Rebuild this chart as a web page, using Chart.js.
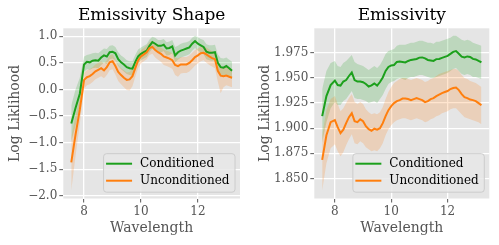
<!DOCTYPE html>
<html>
<head>
<meta charset="utf-8">
<script src="https://cdn.jsdelivr.net/npm/chart.js@4.4.1/dist/chart.umd.min.js"></script>
<style>
  html, body { margin: 0; padding: 0; background: #fff; }
  #wrap { display: flex; width: 499px; height: 245px; }
  canvas { display: block; }
</style>
</head>
<body>
<div id="wrap">
  <canvas id="shape" width="250" height="245"></canvas>
  <canvas id="emis" width="249" height="245"></canvas>
</div>
<script>
// wavelength samples (both panels share them)
const wavelength = [
	7.55, 7.7, 7.85, 8.0, 8.1, 8.2, 8.3, 8.4, 8.5, 8.6, 8.7, 8.8, 8.9, 9.0,
	9.1, 9.2, 9.3, 9.4, 9.5, 9.6, 9.7, 9.8, 9.9, 10.0, 10.1, 10.2, 10.3, 10.4,
	10.5, 10.6, 10.7, 10.8, 10.9, 11.0, 11.1, 11.2, 11.3, 11.4, 11.5, 11.6, 11.7,
	11.8, 11.9, 12.0, 12.1, 12.2, 12.3, 12.4, 12.5, 12.6, 12.7, 12.8, 12.9, 13.0,
	13.1, 13.2
];

const seriesNames = ['Conditioned', 'Unconditioned'];
const xTicks = [8, 10, 12];

// --- Emissivity Shape panel ---
const shapeCond = [
	-0.64, -0.35, -0.08, 0.47, 0.52, 0.51, 0.54, 0.55, 0.54, 0.60, 0.64, 0.62, 0.70, 0.71,
	0.68, 0.57, 0.51, 0.47, 0.42, 0.40, 0.39, 0.52, 0.62, 0.67, 0.70, 0.73, 0.82, 0.89,
	0.86, 0.82, 0.82, 0.84, 0.77, 0.78, 0.81, 0.64, 0.70, 0.73, 0.75, 0.77, 0.79,
	0.86, 0.91, 0.86, 0.83, 0.80, 0.71, 0.69, 0.69, 0.70, 0.50, 0.42, 0.41, 0.44,
	0.40, 0.35
];
const shapeCondHi = [
	-0.30, 0.00, 0.22, 0.62, 0.65, 0.66, 0.68, 0.69, 0.68, 0.73, 0.77, 0.76, 0.82, 0.83,
	0.80, 0.70, 0.64, 0.60, 0.55, 0.53, 0.53, 0.65, 0.75, 0.79, 0.82, 0.85, 0.94, 0.99,
	0.97, 0.93, 0.93, 0.95, 0.89, 0.90, 0.93, 0.80, 0.82, 0.86, 0.88, 0.89, 0.91,
	0.97, 1.01, 0.98, 0.95, 0.93, 0.85, 0.83, 0.83, 0.84, 0.66, 0.59, 0.58, 0.60,
	0.56, 0.52
];
const shapeCondLo = [
	-0.98, -0.68, -0.35, 0.33, 0.38, 0.37, 0.40, 0.41, 0.40, 0.46, 0.50, 0.48, 0.57, 0.58,
	0.55, 0.44, 0.38, 0.34, 0.29, 0.27, 0.26, 0.39, 0.49, 0.55, 0.58, 0.61, 0.70, 0.77,
	0.74, 0.70, 0.70, 0.72, 0.64, 0.65, 0.68, 0.51, 0.56, 0.60, 0.62, 0.64, 0.66,
	0.73, 0.78, 0.73, 0.70, 0.66, 0.57, 0.55, 0.54, 0.55, 0.32, 0.25, 0.24, 0.28,
	0.24, 0.19
];
const shapeUncond = [
	-1.37, -0.85, -0.38, 0.18, 0.23, 0.25, 0.29, 0.34, 0.37, 0.40, 0.36, 0.42, 0.51, 0.53,
	0.44, 0.33, 0.27, 0.22, 0.18, 0.19, 0.25, 0.40, 0.55, 0.62, 0.66, 0.70, 0.78, 0.80,
	0.74, 0.70, 0.67, 0.62, 0.60, 0.58, 0.55, 0.46, 0.44, 0.47, 0.47, 0.47, 0.50,
	0.55, 0.61, 0.64, 0.68, 0.69, 0.66, 0.62, 0.59, 0.57, 0.35, 0.26, 0.25, 0.26,
	0.24, 0.22
];
const shapeUncondHi = [
	-0.90, -0.50, -0.15, 0.32, 0.36, 0.38, 0.42, 0.47, 0.50, 0.53, 0.49, 0.55, 0.64, 0.66,
	0.57, 0.46, 0.40, 0.36, 0.32, 0.33, 0.39, 0.53, 0.67, 0.74, 0.78, 0.82, 0.89, 0.91,
	0.86, 0.82, 0.79, 0.75, 0.73, 0.71, 0.68, 0.60, 0.58, 0.61, 0.61, 0.61, 0.64,
	0.69, 0.74, 0.77, 0.80, 0.81, 0.79, 0.75, 0.72, 0.70, 0.50, 0.42, 0.41, 0.42,
	0.40, 0.38
];
const shapeUncondLo = [
	-1.90, -1.25, -0.65, 0.02, 0.08, 0.10, 0.14, 0.19, 0.22, 0.25, 0.21, 0.27, 0.36, 0.38,
	0.28, 0.16, 0.10, 0.04, -0.01, -0.02, 0.06, 0.24, 0.40, 0.49, 0.53, 0.57, 0.65, 0.67,
	0.60, 0.56, 0.52, 0.46, 0.44, 0.42, 0.39, 0.27, 0.24, 0.30, 0.31, 0.31, 0.34,
	0.39, 0.45, 0.49, 0.53, 0.55, 0.50, 0.46, 0.43, 0.40, 0.15, -0.07, 0.04, 0.08,
	0.06, 0.04
];
const shapeYTicks = [-2.0, -1.5, -1.0, -0.5, 0.0, 0.5, 1.0];

// --- Emissivity panel ---
const emisCond = [
	1.912, 1.932, 1.943, 1.9475, 1.943, 1.9425, 1.9465, 1.948, 1.952, 1.9555, 1.948, 1.9465, 1.9465, 1.9458,
	1.944, 1.9415, 1.9426, 1.9445, 1.9425, 1.946, 1.9505, 1.957, 1.961, 1.9625, 1.963, 1.966, 1.9665, 1.966,
	1.9655, 1.967, 1.968, 1.9685, 1.969, 1.9703, 1.9705, 1.9695, 1.968, 1.9675, 1.967, 1.9688, 1.969,
	1.970, 1.971, 1.972, 1.974, 1.976, 1.9768, 1.9742, 1.9712, 1.9705, 1.9715, 1.971, 1.969, 1.9685,
	1.967, 1.9657
];
const emisCondHi = [
	1.939, 1.957, 1.965, 1.967, 1.962, 1.961, 1.965, 1.967, 1.970, 1.973, 1.966, 1.964, 1.963, 1.962,
	1.960, 1.958, 1.960, 1.962, 1.960, 1.963, 1.968, 1.974, 1.977, 1.978, 1.979, 1.982, 1.983, 1.983,
	1.983, 1.984, 1.985, 1.985, 1.986, 1.987, 1.987, 1.986, 1.985, 1.985, 1.984, 1.986, 1.986,
	1.987, 1.988, 1.989, 1.990, 1.992, 1.992, 1.990, 1.988, 1.987, 1.988, 1.987, 1.985, 1.984,
	1.983, 1.982
];
const emisCondLo = [
	1.886, 1.906, 1.920, 1.926, 1.923, 1.923, 1.927, 1.929, 1.933, 1.937, 1.930, 1.929, 1.929, 1.928,
	1.927, 1.925, 1.926, 1.927, 1.925, 1.929, 1.933, 1.939, 1.944, 1.946, 1.947, 1.949, 1.950, 1.949,
	1.948, 1.950, 1.951, 1.951, 1.952, 1.953, 1.953, 1.952, 1.951, 1.950, 1.950, 1.951, 1.952,
	1.953, 1.954, 1.955, 1.957, 1.959, 1.960, 1.957, 1.954, 1.953, 1.954, 1.953, 1.951, 1.951,
	1.950, 1.949
];
const emisUncond = [
	1.8685, 1.893, 1.906, 1.908, 1.901, 1.895, 1.8985, 1.905, 1.911, 1.915, 1.907, 1.906, 1.9088, 1.907,
	1.902, 1.899, 1.8975, 1.8995, 1.8985, 1.900, 1.905, 1.912, 1.918, 1.922, 1.925, 1.927, 1.928, 1.9295,
	1.9295, 1.929, 1.928, 1.929, 1.930, 1.929, 1.928, 1.926, 1.927, 1.929, 1.930, 1.932, 1.9335,
	1.935, 1.936, 1.937, 1.939, 1.940, 1.9405, 1.938, 1.934, 1.931, 1.930, 1.9285, 1.928, 1.927,
	1.925, 1.9228
];
const emisUncondHi = [
	1.893, 1.918, 1.929, 1.932, 1.924, 1.917, 1.920, 1.925, 1.930, 1.934, 1.926, 1.924, 1.926, 1.924,
	1.919, 1.916, 1.914, 1.915, 1.914, 1.916, 1.921, 1.929, 1.936, 1.941, 1.945, 1.947, 1.949, 1.950,
	1.950, 1.949, 1.948, 1.949, 1.950, 1.949, 1.948, 1.946, 1.947, 1.949, 1.950, 1.952, 1.954,
	1.955, 1.956, 1.957, 1.958, 1.959, 1.959, 1.957, 1.953, 1.950, 1.949, 1.947, 1.946, 1.945,
	1.943, 1.941
];
const emisUncondLo = [
	1.838, 1.865, 1.880, 1.884, 1.877, 1.872, 1.876, 1.883, 1.889, 1.894, 1.885, 1.884, 1.887, 1.885,
	1.881, 1.879, 1.877, 1.878, 1.877, 1.880, 1.885, 1.893, 1.899, 1.903, 1.906, 1.908, 1.909, 1.910,
	1.910, 1.909, 1.908, 1.909, 1.910, 1.909, 1.908, 1.906, 1.907, 1.909, 1.910, 1.912, 1.913,
	1.915, 1.916, 1.917, 1.919, 1.920, 1.920, 1.917, 1.914, 1.911, 1.910, 1.909, 1.908, 1.907,
	1.906, 1.904
];
const emisYTicks = [1.850, 1.875, 1.900, 1.925, 1.950, 1.975];

const green = '#1ca01c';
const orange = '#ff7f0e';
const serif = 'DejaVu Serif';

// grey panel behind the plot, ggplot style
const panelBg = {
	id: 'panelBg',
	beforeDraw(chart) {
		const a = chart.chartArea;
		const ctx = chart.ctx;
		ctx.save();
		ctx.fillStyle = '#E5E5E5';
		ctx.fillRect(a.left, a.top, a.right - a.left, a.bottom - a.top);
		ctx.restore();
	}
};

// legend in the lower right corner of the plot
const cornerLegend = {
	id: 'cornerLegend',
	afterDraw(chart) {
		const a = chart.chartArea;
		const ctx = chart.ctx;
		const items = chart.data.datasets
			.filter(d => d.legendPos !== undefined)
			.sort((p, q) => p.legendPos - q.legendPos);
		ctx.save();
		ctx.font = '12px "' + serif + '"';
		let tw = 0;
		items.forEach(d => { tw = Math.max(tw, ctx.measureText(d.label).width); });
		const w = 3 + 26 + 8 + tw + 5;
		const h = 38.5;
		const x = a.right - 5.5 - w;
		const y = a.bottom - 6.8 - h;
		ctx.beginPath();
		ctx.roundRect(x + 0.5, y + 0.5, w, h, 3);
		ctx.fillStyle = 'rgba(232,232,232,0.85)';
		ctx.fill();
		ctx.strokeStyle = '#cccccc';
		ctx.lineWidth = 1;
		ctx.stroke();
		items.forEach((d, i) => {
			const cy = y + 10.5 + i * 17;
			ctx.beginPath();
			ctx.moveTo(x + 3, cy);
			ctx.lineTo(x + 29, cy);
			ctx.strokeStyle = d.borderColor;
			ctx.lineWidth = 2;
			ctx.stroke();
			ctx.fillStyle = '#000';
			ctx.textBaseline = 'middle';
			ctx.textAlign = 'left';
			ctx.fillText(d.label, x + 37, cy + 0.5);
		});
		ctx.restore();
	}
};

function pts(ys) {
	return wavelength.map((w, i) => ({x: w, y: ys[i]}));
}

function fmt(v, dec) {
	return v.toFixed(dec).replace('-', '\u2212');
}

makeChart = function(id, title, s, yMin, yMax, yTicks, dec, yAxisW, rightPad) {

	const datasets = [
		{ label: seriesNames[1], data: pts(s.uncond), borderColor: orange, borderWidth: 2,
		  pointRadius: 0, fill: false, order: 0, legendPos: 1 },
		{ label: seriesNames[0], data: pts(s.cond), borderColor: green, borderWidth: 2,
		  pointRadius: 0, fill: false, order: 1, legendPos: 0 },
		{ data: pts(s.uncondHi), borderWidth: 0, pointRadius: 0,
		  backgroundColor: 'rgba(255,127,14,0.2)', fill: '+1', order: 2 },
		{ data: pts(s.uncondLo), borderWidth: 0, pointRadius: 0, fill: false, order: 3 },
		{ data: pts(s.condHi), borderWidth: 0, pointRadius: 0,
		  backgroundColor: 'rgba(28,160,28,0.2)', fill: '+1', order: 4 },
		{ data: pts(s.condLo), borderWidth: 0, pointRadius: 0, fill: false, order: 5 }
	];

	const tickFont = { family: serif, size: 12 };

	const options = {
		responsive: false,
		animation: false,
		layout: { padding: { left: 0, right: rightPad, top: 0, bottom: 0 } },
		plugins: {
			legend: { display: false },
			tooltip: { enabled: false },
			title: {
				display: true,
				text: title,
				fullSize: false,
				color: '#000',
				font: { family: serif, size: 17, weight: 'normal' },
				padding: { top: 5.3, bottom: 2.6 }
			}
		},
		scales: {
			x: {
				type: 'linear',
				min: 7.27,
				max: 13.48,
				afterBuildTicks: (sc) => { sc.ticks = xTicks.map(v => ({value: v})); },
				afterFit: (sc) => { sc.height = 46.5; },
				border: { display: false },
				grid: { color: '#ffffff', lineWidth: 1.3, tickColor: '#555555', tickLength: 4, tickWidth: 1 },
				ticks: { font: tickFont, color: '#555555', padding: 2, maxRotation: 0,
					callback: (v) => String(v) },
				title: { display: true, text: 'Wavelength', color: '#555555',
					font: { family: serif, size: 14 }, padding: { top: 0, bottom: 8.3 } }
			},
			y: {
				min: yMin,
				max: yMax,
				afterBuildTicks: (sc) => { sc.ticks = yTicks.map(v => ({value: v})); },
				afterFit: (sc) => { sc.width = yAxisW; },
				border: { display: false },
				grid: { color: '#ffffff', lineWidth: 1.3, tickColor: '#555555', tickLength: 4, tickWidth: 1 },
				ticks: { font: tickFont, color: '#555555', padding: 2,
					callback: (v) => fmt(v, dec) },
				title: { display: true, text: 'Log Liklihood', color: '#555555',
					font: { family: serif, size: 14 }, padding: { top: 6.6, bottom: 0 } }
			}
		}
	};

	new Chart(document.getElementById(id).getContext('2d'), {
		type: 'line',
		data: { datasets: datasets },
		options: options,
		plugins: [panelBg, cornerLegend]
	});
};

window.addEventListener('load', () => {
	makeChart('shape', 'Emissivity Shape', {
		cond: shapeCond, condHi: shapeCondHi, condLo: shapeCondLo,
		uncond: shapeUncond, uncondHi: shapeUncondHi, uncondLo: shapeUncondLo
	}, -2.05, 1.15, shapeYTicks, 1, 63.3, 10);

	makeChart('emis', 'Emissivity', {
		cond: emisCond, condHi: emisCondHi, condLo: emisCondLo,
		uncond: emisUncond, uncondHi: emisUncondHi, uncondLo: emisUncondLo
	}, 1.830, 1.9995, emisYTicks, 3, 64.3, 9.7);
});
</script>
</body>
</html>
